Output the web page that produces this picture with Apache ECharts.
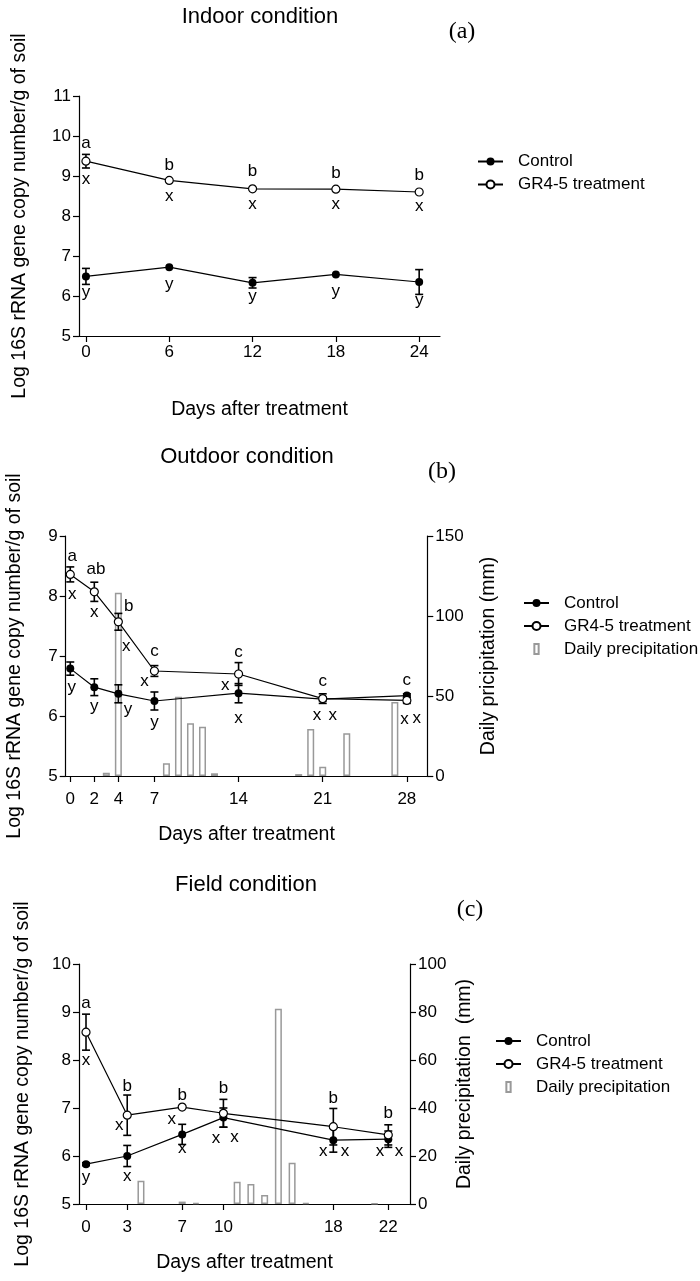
<!DOCTYPE html>
<html>
<head>
<meta charset="UTF-8">
<title>Log 16S rRNA gene copy number</title>
<script src="https://cdn.jsdelivr.net/npm/echarts@6/dist/echarts.min.js"></script>
<style>
  html, body { margin: 0; padding: 0; background: #fff; }
  #chart { width: 700px; height: 1281px; }
</style>
</head>
<body>
<div id="chart"></div>
<script>
// (a) indoor
var daysA = [0, 6, 12, 18, 24];
var ctrlA = [6.49, 6.72, 6.33, 6.54, 6.35];
var ctrlErrA = [0.2, 0, 0.13, 0, 0.31];
var grA = [9.37, 8.89, 8.68, 8.67, 8.60];
var grErrA = [0.17, 0, 0, 0, 0];
var grTopA = ['a', 'b', 'b', 'b', 'b'];
var grBotA = ['x', 'x', 'x', 'x', 'x'];
var ctrlLetA = ['y', 'y', 'y', 'y', 'y'];

// (b) outdoor
var daysB = [0, 2, 4, 7, 14, 21, 28];
var ctrlB = [6.79, 6.48, 6.37, 6.25, 6.38, 6.28, 6.34];
var ctrlErrB = [0.11, 0.14, 0.15, 0.15, 0.16, 0.03, 0.03];
var grB = [8.36, 8.07, 7.57, 6.75, 6.70, 6.29, 6.26];
var grErrB = [0.125, 0.16, 0.14, 0.09, 0.19, 0.08, 0.05];
var grTopB = ['a', 'ab', 'b', 'c', 'c', 'c', 'c'];
var grBotB = ['x', 'x', 'x', 'x', 'x', 'x', 'x'];
var ctrlLetB = ['y', 'y', 'y', 'y', 'x', 'x', 'x'];
var rainDaysB = [3, 4, 8, 9, 10, 11, 12, 19, 20, 21, 23, 27];
var rainB = [2, 114.6, 7.9, 49.6, 32.9, 30.8, 1.7, 1.2, 29.4, 5.8, 26.7, 46.3];

// (c) field
var daysC = [0, 3, 7, 10, 18, 22];
var ctrlC = [5.83, 6.0, 6.45, 6.80, 6.33, 6.35];
var ctrlErrC = [0.03, 0.22, 0.21, 0.2, 0.25, 0.17];
var grC = [8.58, 6.85, 7.02, 6.89, 6.61, 6.44];
var grErrC = [0.375, 0.42, 0, 0.29, 0.38, 0.21];
var grTopC = ['a', 'b', 'b', 'b', 'b', 'b'];
var grBotC = ['x', 'x', 'x', 'x', 'x', 'x'];
var ctrlLetC = ['y', 'x', 'x', 'x', 'x', 'x'];
var rainDaysC = [4, 7, 8, 11, 12, 13, 14, 15, 16, 21];
var rainC = [9.7, 1, 0.5, 9.3, 8.3, 3.75, 81.4, 17.2, 0.4, 0.2];

var yTitle = 'Log 16S rRNA gene copy number/g of soil';
var xTitle = 'Days after treatment';

// pixel offsets of the letters from their points
var offGrTopA = [[0, -17.7], [0, -15.3], [0, -17], [0, -16], [0, -17]];
var offGrBotA = [[0, 18], [0, 16.4], [0, 15.3], [0, 14.7], [0, 14.7]];
var offCtrlA = [[0, 18.7], [0, 19.4], [0, 15.6], [0, 19], [0, 21.3]];
var offGrTopB = [[2, -18], [1.6, -22], [10.4, -15], [0, -20], [0, -21.7], [0, -17], [0, -19.7]];
var offGrBotB = [[2, 20], [0, 21], [8, 25], [-10, 10.7], [-13.3, 11.7], [-5.7, 16.3], [-2.3, 18.7]];
var offCtrlB = [[1.4, 21.3], [0, 21.7], [9.7, 18], [0, 24], [0, 25], [10, 16.3], [10, 22.6]];
var offGrTopC = [[0, -28.5], [0, -28.5], [0, -12], [0, -25], [0, -28.4], [0, -21.6]];
var offGrBotC = [[0, 28], [-8, 10], [-10.5, 12.3], [-7.4, 25], [-10, 25], [-8.3, 16]];
var offCtrlC = [[0, 15.8], [0, 20.7], [0, 13.6], [11, 20], [11.7, 11.5], [10.7, 11.8]];

var FONT = '"Liberation Sans", Arial, sans-serif';
var SERIF = '"Liberation Serif", "Times New Roman", serif';

function pairs(xs, ys) {
  return xs.map(function (x, i) { return [x, ys[i]]; });
}

function axisBase(extra) {
  var a = {
    axisLine: { show: true, onZero: false, lineStyle: { color: '#000', width: 1.2 } },
    axisTick: { show: true, length: 6, lineStyle: { color: '#000', width: 1.2 } },
    axisLabel: { color: '#000', fontSize: 17, fontFamily: FONT },
    splitLine: { show: false },
    nameTextStyle: { color: '#000', fontSize: 19.5, fontFamily: FONT }
  };
  return Object.assign(a, extra);
}

function xAxisFor(grid, min, max, ticks, gap, margin) {
  return axisBase({
    type: 'value', gridIndex: grid, min: min, max: max,
    name: xTitle, nameLocation: 'middle', nameGap: gap,
    axisTick: { show: true, length: 6, customValues: ticks, lineStyle: { color: '#000', width: 1.2 } },
    axisLabel: { color: '#000', fontSize: 17, fontFamily: FONT, customValues: ticks, margin: margin }
  });
}

function lineSeries(name, xi, yi, days, vals, open) {
  return {
    type: 'line', name: name, xAxisIndex: xi, yAxisIndex: yi,
    data: pairs(days, vals), symbol: 'circle', symbolSize: 8,
    lineStyle: { color: '#000', width: 1.2 },
    itemStyle: open ? { color: '#fff', borderColor: '#000', borderWidth: 1.2 } : { color: '#000' },
    z: 4
  };
}

function errSeries(xi, yi, days, vals, errs) {
  return {
    type: 'custom', xAxisIndex: xi, yAxisIndex: yi, z: 3, silent: true,
    data: days.map(function (d, i) { return [d, vals[i], errs[i]]; }),
    renderItem: function (params, api) {
      var x = api.value(0), v = api.value(1), e = api.value(2);
      if (!e) return null;
      var hi = api.coord([x, v + e]), lo = api.coord([x, v - e]);
      var st = { stroke: '#000', lineWidth: 1.6 };
      return {
        type: 'group', children: [
          { type: 'line', shape: { x1: hi[0], y1: hi[1], x2: lo[0], y2: lo[1] }, style: st },
          { type: 'line', shape: { x1: hi[0] - 4, y1: hi[1], x2: hi[0] + 4, y2: hi[1] }, style: st },
          { type: 'line', shape: { x1: lo[0] - 4, y1: lo[1], x2: lo[0] + 4, y2: lo[1] }, style: st }
        ]
      };
    }
  };
}

function letterSeries(xi, yi, days, vals, letters, offs) {
  return {
    type: 'custom', xAxisIndex: xi, yAxisIndex: yi, z: 6, silent: true,
    data: days.map(function (d, i) { return [d, vals[i], offs[i][0], offs[i][1]]; }),
    renderItem: function (params, api) {
      var p = api.coord([api.value(0), api.value(1)]);
      var t = letters[params.dataIndex];
      return {
        type: 'text',
        x: p[0] + api.value(2),
        y: p[1] + api.value(3) + (t === 'y' ? -2.5 : 0),
        style: { text: t, fill: '#000', fontSize: 17, fontFamily: FONT, align: 'center', verticalAlign: 'middle' }
      };
    }
  };
}

function rainSeries(xi, yi, days, vals) {
  return {
    type: 'bar', name: 'Daily precipitation', xAxisIndex: xi, yAxisIndex: yi,
    data: pairs(days, vals), barWidth: 7,
    itemStyle: { color: '#fff', borderColor: '#999', borderWidth: 1.5 },
    z: 1
  };
}

function legendAt(left, top, withRain) {
  var data = ['Control', 'GR4-5 treatment'];
  if (withRain) data.push({ name: 'Daily precipitation', icon: 'path://M0,0L6,0L6,14L0,14Z' });
  return {
    orient: 'vertical', left: left, top: top, padding: 0,
    itemWidth: 25, itemHeight: 10, itemGap: 3, selectedMode: false,
    data: data,
    textStyle: { color: '#000', fontSize: 17, fontFamily: FONT, lineHeight: 20, padding: [0, 0, 0, 10] }
  };
}

function titleAt(text, x, y, size, family) {
  return {
    text: text, left: x, top: y, textAlign: 'center', padding: 0,
    textStyle: { color: '#000', fontSize: size, fontWeight: 'normal', fontFamily: family }
  };
}

var chart = echarts.init(document.getElementById('chart'));
chart.setOption({
  animation: false,
  backgroundColor: '#fff',
  title: [
    titleAt('Indoor condition', 260, 6, 22, FONT),
    titleAt('(a)', 462, 20, 24, SERIF),
    titleAt('Outdoor condition', 247, 446, 22, FONT),
    titleAt('(b)', 442, 460, 24, SERIF),
    titleAt('Field condition', 246, 874, 22, FONT),
    titleAt('(c)', 470, 898, 24, SERIF)
  ],
  legend: [
    legendAt(477, 151.5, false),
    legendAt(523, 593, true),
    legendAt(495, 1031, true)
  ],
  grid: [
    { left: 79, top: 96, width: 361, height: 240, outerBoundsMode: 'none' },
    { left: 65.7, top: 536, width: 361.6, height: 240, outerBoundsMode: 'none' },
    { left: 79, top: 964, width: 331, height: 240, outerBoundsMode: 'none' }
  ],
  xAxis: [
    xAxisFor(0, -0.5, 25.5, daysA, 64, 8),
    xAxisFor(1, -0.38, 29.7, daysB, 49, 15),
    xAxisFor(2, -0.51, 23.58, daysC, 49, 15)
  ],
  yAxis: [
    axisBase({ type: 'value', gridIndex: 0, min: 5, max: 11, interval: 1,
      name: yTitle, nameLocation: 'middle', nameGap: 49, nameRotate: 90 }),
    axisBase({ type: 'value', gridIndex: 1, min: 5, max: 9, interval: 1,
      name: yTitle, nameLocation: 'middle', nameGap: 41, nameRotate: 90 }),
    axisBase({ type: 'value', gridIndex: 1, position: 'right', min: 0, max: 150, interval: 50,
      name: 'Daily pricipitation (mm)', nameLocation: 'middle', nameGap: 51, nameRotate: 90 }),
    axisBase({ type: 'value', gridIndex: 2, min: 5, max: 10, interval: 1,
      name: yTitle, nameLocation: 'middle', nameGap: 46, nameRotate: 90 }),
    axisBase({ type: 'value', gridIndex: 2, position: 'right', min: 0, max: 100, interval: 20,
      name: 'Daily precipitation  (mm)', nameLocation: 'middle', nameGap: 45, nameRotate: 90 })
  ],
  series: [
    errSeries(0, 0, daysA, ctrlA, ctrlErrA),
    errSeries(0, 0, daysA, grA, grErrA),
    lineSeries('Control', 0, 0, daysA, ctrlA, false),
    lineSeries('GR4-5 treatment', 0, 0, daysA, grA, true),
    letterSeries(0, 0, daysA, grA, grTopA, offGrTopA),
    letterSeries(0, 0, daysA, grA, grBotA, offGrBotA),
    letterSeries(0, 0, daysA, ctrlA, ctrlLetA, offCtrlA),

    rainSeries(1, 2, rainDaysB, rainB),
    errSeries(1, 1, daysB, ctrlB, ctrlErrB),
    errSeries(1, 1, daysB, grB, grErrB),
    lineSeries('Control', 1, 1, daysB, ctrlB, false),
    lineSeries('GR4-5 treatment', 1, 1, daysB, grB, true),
    letterSeries(1, 1, daysB, grB, grTopB, offGrTopB),
    letterSeries(1, 1, daysB, grB, grBotB, offGrBotB),
    letterSeries(1, 1, daysB, ctrlB, ctrlLetB, offCtrlB),

    rainSeries(2, 4, rainDaysC, rainC),
    errSeries(2, 3, daysC, ctrlC, ctrlErrC),
    errSeries(2, 3, daysC, grC, grErrC),
    lineSeries('Control', 2, 3, daysC, ctrlC, false),
    lineSeries('GR4-5 treatment', 2, 3, daysC, grC, true),
    letterSeries(2, 3, daysC, grC, grTopC, offGrTopC),
    letterSeries(2, 3, daysC, grC, grBotC, offGrBotC),
    letterSeries(2, 3, daysC, ctrlC, ctrlLetC, offCtrlC)
  ]
});
</script>
</body>
</html>
